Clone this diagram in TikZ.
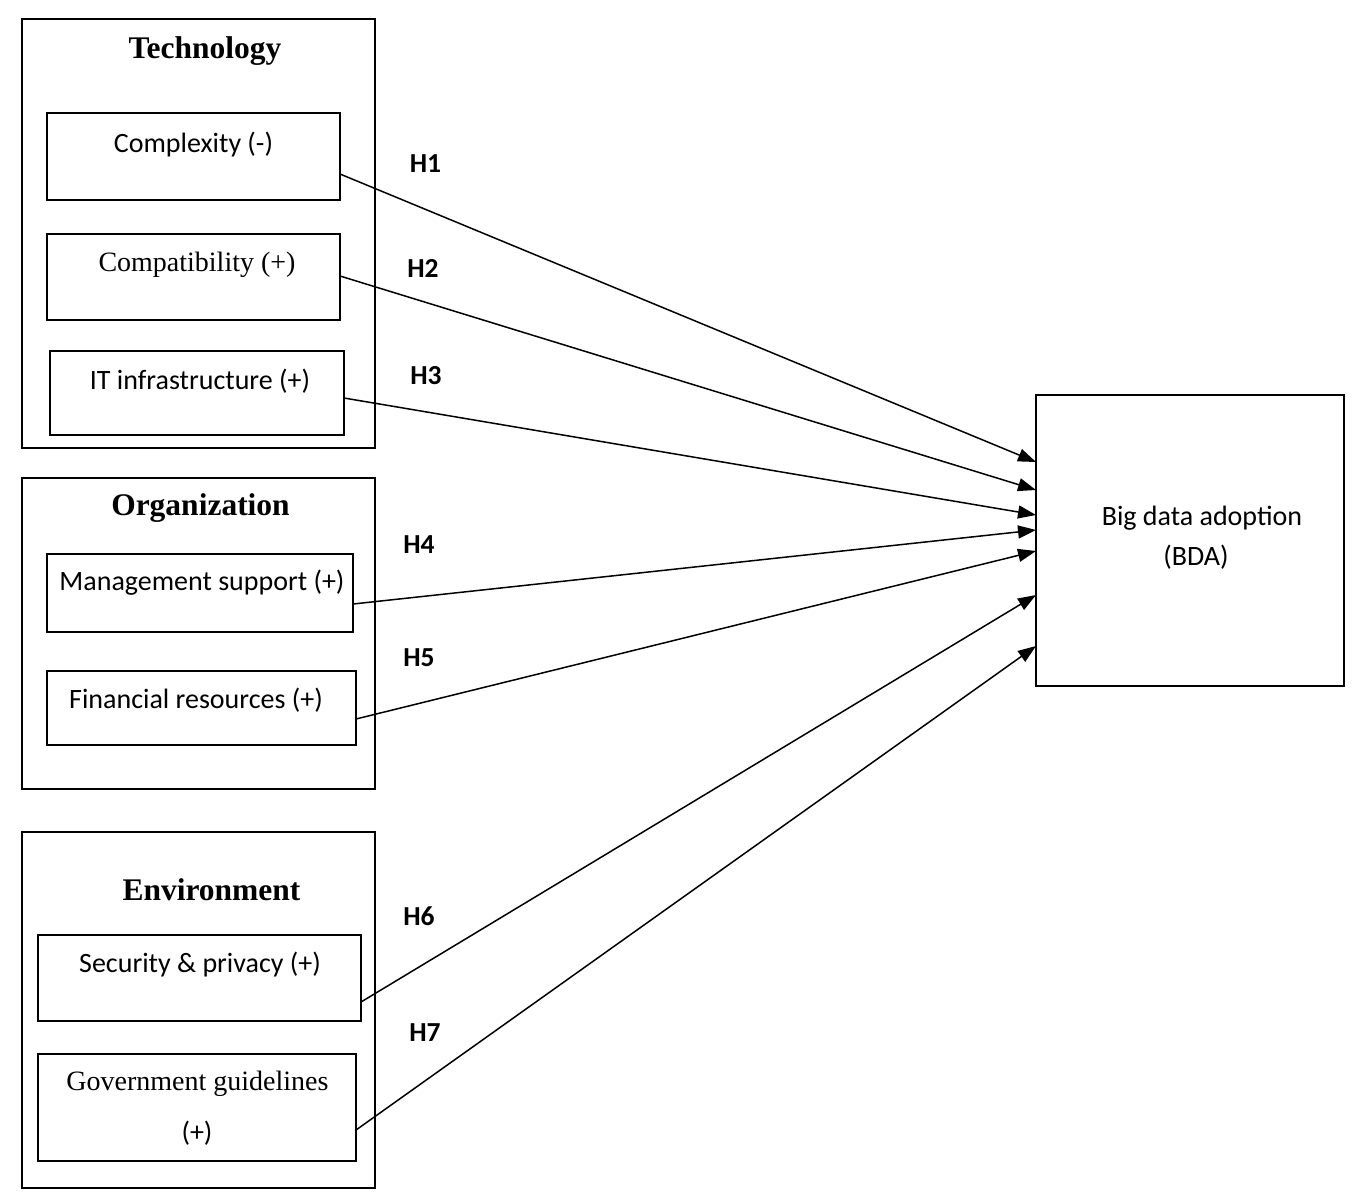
\documentclass[tikz,border=0pt]{standalone}
\usepackage{fontspec}
\setmainfont{Liberation Serif}
\newfontfamily\calibri{Carlito}
\usetikzlibrary{arrows.meta}
\begin{document}
\begin{tikzpicture}[x=1pt,y=-1pt,
  group/.style={draw,line width=1.8pt,inner sep=0pt,outer sep=0pt},
  factor/.style={draw,line width=1.8pt,inner sep=0pt,outer sep=0pt},
  sanslbl/.style={anchor=base,inner sep=0pt,font=\calibri\fontsize{28}{34}\selectfont},
  seriflbl/.style={anchor=base,inner sep=0pt,font=\fontsize{28}{34}\selectfont},
  grouptitle/.style={anchor=base,inner sep=0pt,font=\bfseries\fontsize{31.5}{36}\selectfont},
  hyp/.style={anchor=base,inner sep=0pt,font=\calibri\bfseries\fontsize{27.5}{32}\selectfont},
  link/.style={line width=1.5pt,-{Triangle[length=18pt,width=13pt]}}]
\useasboundingbox (0,0) rectangle (1360,1200);

% context groups
\node[group,minimum width=353pt,minimum height=429pt] (tech) at (198.5,233.5) {};
\node[group,minimum width=353pt,minimum height=311pt] (org)  at (198.5,633.5) {};
\node[group,minimum width=353pt,minimum height=356pt] (env)  at (198.5,1010) {};

\node[grouptitle] (techT) at (205,58)  {Technology};
\node[grouptitle] (orgT)  at (200.5,515.5) {Organization};
\node[grouptitle] (envT)  at (211.5,900.5) {Environment};

% factor boxes
\node[factor,minimum width=293pt,minimum height=87pt]  (cx) at (193.5,156.5) {};
\node[factor,minimum width=293pt,minimum height=86pt]  (cp) at (193.5,277) {};
\node[factor,minimum width=294pt,minimum height=84pt]  (it) at (197,393) {};
\node[factor,minimum width=306pt,minimum height=78pt]  (ms) at (200,593) {};
\node[factor,minimum width=309pt,minimum height=74pt]  (fr) at (201.5,708) {};
\node[factor,minimum width=323pt,minimum height=86pt]  (sp) at (199.5,978) {};
\node[factor,minimum width=318pt,minimum height=107pt] (gg) at (197,1107.5) {};

\node[sanslbl]  (cxT) at (193.5,152) {Complexity (-)};
\node[seriflbl] (cpT) at (197,271.5) {Compatibility (+)};
\node[sanslbl]  (itT) at (200,389) {IT infrastructure (+)};
\node[sanslbl]  (msT) at (202,590) {Management support (+)};
\node[sanslbl]  (frT) at (196,708) {Financial resources (+)};
\node[sanslbl]  (spT) at (200,972.5) {Security \& privacy (+)};
\node[seriflbl] (ggT) at (197.5,1090.5) {Government guidelines};
\node[sanslbl]  (ggT2) at (197,1141) {(+)};

% outcome
\node[factor,minimum width=308pt,minimum height=291pt] (bda) at (1190,540.5) {};
\node[sanslbl] (bdaT)  at (1202,525) {Big data adoption};
\node[sanslbl] (bdaT2) at (1196,565) {(BDA)};

% hypotheses
\draw[link] ([yshift=-17.5pt]cx.east) -- ([yshift=78.5pt]bda.west);
\draw[link] ([yshift=1pt]cp.east)     -- ([yshift=50.5pt]bda.west);
\draw[link] ([yshift=-5pt]it.east)    -- ([yshift=25.5pt]bda.west);
\draw[link] ([yshift=-11pt]ms.east)   -- ([yshift=10.5pt]bda.west);
\draw[link] ([yshift=-11pt]fr.east)   -- ([yshift=-10.5pt]bda.west);
\draw[link] ([yshift=-24pt]sp.east)   -- ([yshift=-54.5pt]bda.west);
\draw[link] ([yshift=-22.5pt]gg.east) -- ([yshift=-105.5pt]bda.west);

\node[hyp] (h1) at (425.5,172) {H1};
\node[hyp] (h2) at (423,277) {H2};
\node[hyp] (h3) at (426,384) {H3};
\node[hyp] (h4) at (419,553) {H4};
\node[hyp] (h5) at (419,666) {H5};
\node[hyp] (h6) at (419,925) {H6};
\node[hyp] (h7) at (425,1041) {H7};
\end{tikzpicture}
\end{document}
